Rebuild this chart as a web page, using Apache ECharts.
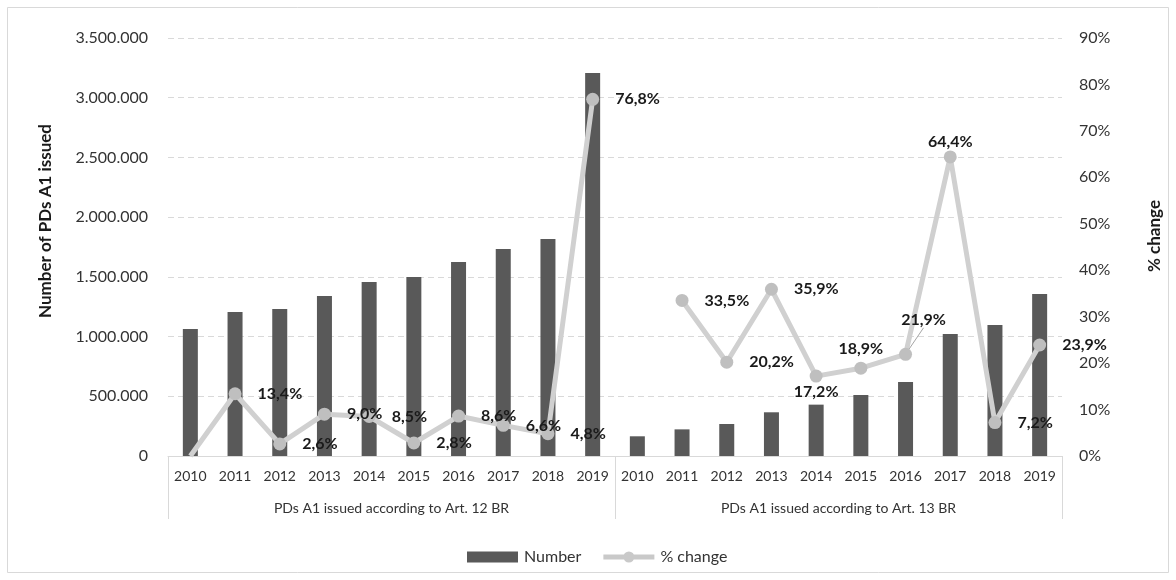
<!DOCTYPE html>
<html>
<head>
<meta charset="utf-8">
<script src="https://cdn.jsdelivr.net/npm/echarts@6/dist/echarts.min.js"></script>
<style>
  html, body { margin: 0; padding: 0; background: #fff; }
  #chart { width: 1176px; height: 580px; }
</style>
</head>
<body>
<div id="chart"></div>
<script>
// Years shown inside each group of the category axis
const years = ['2010', '2011', '2012', '2013', '2014', '2015', '2016', '2017', '2018', '2019'];
// Outer category level
const groups = ['PDs A1 issued according to Art. 12 BR', 'PDs A1 issued according to Art. 13 BR'];

// Number of PDs A1 issued (Art. 12 block, then Art. 13 block)
const numberArt12 = [1063000, 1206000, 1231000, 1340000, 1457000, 1499000, 1624000, 1733000, 1817000, 3207000];
const numberArt13 = [165000, 223000, 268000, 366000, 430000, 511000, 620000, 1022000, 1097000, 1356000];

// Year-on-year % change
const changeArt12 = [0, 13.4, 2.6, 9.0, 8.5, 2.8, 8.6, 6.6, 4.8, 76.8];
const changeArt13 = [null, 33.5, 20.2, 35.9, 17.2, 18.9, 21.9, 64.4, 7.2, 23.9];

// Axis ticks
const leftTicks = { min: 0, max: 3500000, step: 500000 };
const rightTicks = { min: 0, max: 90, step: 10 };

const FONT = 'Lato, "Open Sans", sans-serif';

const categories = groups.flatMap(() => years);
const numbers = numberArt12.concat(numberArt13);
const changes = changeArt12.concat(changeArt13);

// label placement per point (index -> label options); default sits to the right
const labelTweaks = {
  14: { label: { position: 'bottom', distance: 1, offset: [-7, 0] } },
  15: { label: { position: 'top', distance: 5, offset: [14, 0] } },
  16: { label: { position: 'top', distance: 6 }, labelLine: { show: true, lineStyle: { color: '#a6a6a6', width: 1 } } },
  17: { label: { position: 'top', distance: 1 } }
};
// label moved off its point and tied back with a leader line
const movedLabels = { 16: { dx: 18, dy: -14 } };

const lineData = changes.map((v, i) => {
  const item = Object.assign({ value: v }, labelTweaks[i] || {});
  // the first point sits on the baseline without a marker
  if (v === 0) item.symbol = 'none';
  return item;
});

// legend key for the line: thick stroke with a dot in the middle
const lineKeyIcon = 'path://M0,3h51v5h-51z M20,5.5a5.5,5.5 0 1,1 11,0a5.5,5.5 0 1,1 -11,0z';

function thousands(v) {
  return String(v).replace(/\B(?=(\d{3})+(?!\d))/g, '.');
}
function pct(v) {
  return v.toFixed(1).replace('.', ',') + '%';
}

const chart = echarts.init(document.getElementById('chart'), null, { renderer: 'canvas' });

chart.setOption({
  animation: false,
  backgroundColor: '#ffffff',
  textStyle: { fontFamily: FONT },
  grid: { left: 168, right: 114, top: 38, bottom: 124, containLabel: false },
  legend: {
    left: 462,
    top: 544,
    itemWidth: 51,
    itemHeight: 11,
    itemGap: 22,
    textStyle: { fontFamily: FONT, fontSize: 16, color: '#333333', padding: [0, 0, 0, 1] },
    data: [
      { name: 'Number', icon: 'rect' },
      { name: '% change', icon: lineKeyIcon, itemStyle: { color: '#c9c9c9' } }
    ]
  },
  xAxis: [
    {
      type: 'category',
      data: categories,
      position: 'bottom',
      axisLine: { show: true, lineStyle: { color: '#d9d9d9', width: 1 } },
      axisTick: { show: false },
      axisLabel: { interval: 0, margin: 13, fontFamily: FONT, fontSize: 14, color: '#333333' }
    },
    {
      type: 'category',
      data: groups,
      position: 'bottom',
      axisLine: { show: false },
      axisTick: { show: true, length: 63, lineStyle: { color: '#d9d9d9', width: 1 } },
      axisLabel: { interval: 0, margin: 45, fontFamily: FONT, fontSize: 14, color: '#333333' },
      splitLine: { show: false }
    }
  ],
  yAxis: [
    {
      type: 'value',
      min: leftTicks.min,
      max: leftTicks.max,
      interval: leftTicks.step,
      axisLine: { show: false },
      axisTick: { show: false },
      axisLabel: { margin: 20, fontFamily: FONT, fontSize: 16, color: '#333333', formatter: thousands },
      splitLine: { show: true, lineStyle: { color: '#d9d9d9', type: [6, 4], width: 1 } }
    },
    {
      type: 'value',
      min: rightTicks.min,
      max: rightTicks.max,
      interval: rightTicks.step,
      axisLine: { show: false },
      axisTick: { show: false },
      axisLabel: { margin: 17, fontFamily: FONT, fontSize: 16, color: '#333333', formatter: '{value}%' },
      splitLine: { show: false }
    }
  ],
  graphic: [
    {
      type: 'rect',
      shape: { x: 7.5, y: 7.5, width: 1161, height: 565 },
      style: { fill: 'none', stroke: '#d9d9d9', lineWidth: 1 },
      silent: true
    },
    {
      type: 'text',
      x: 46, y: 221, rotation: Math.PI / 2,
      style: { text: 'Number of PDs A1 issued', font: 'bold 17px ' + FONT, fill: '#1a1a1a', textAlign: 'center', textVerticalAlign: 'middle' }
    },
    {
      type: 'text',
      x: 1155, y: 236, rotation: Math.PI / 2,
      style: { text: '% change', font: 'bold 17px ' + FONT, fill: '#1a1a1a', textAlign: 'center', textVerticalAlign: 'middle' }
    }
  ],
  series: [
    {
      name: 'Number',
      type: 'bar',
      data: numbers,
      barWidth: 15,
      itemStyle: { color: '#595959' },
      z: 2
    },
    {
      name: '% change',
      type: 'line',
      yAxisIndex: 1,
      data: lineData,
      connectNulls: false,
      symbol: 'circle',
      symbolSize: 13,
      lineStyle: { color: '#d0d0d0', width: 5 },
      itemStyle: { color: '#bfbfbf' },
      z: 3,
      label: {
        show: true,
        position: 'right',
        distance: 16,
        fontFamily: FONT,
        fontSize: 16,
        fontWeight: 'bold',
        color: '#1a1a1a',
        formatter: p => (p.value === 0 || p.value == null ? '' : pct(p.value))
      },
      labelLayout: params => movedLabels[params.dataIndex] || {}
    }
  ]
});
</script>
</body>
</html>
